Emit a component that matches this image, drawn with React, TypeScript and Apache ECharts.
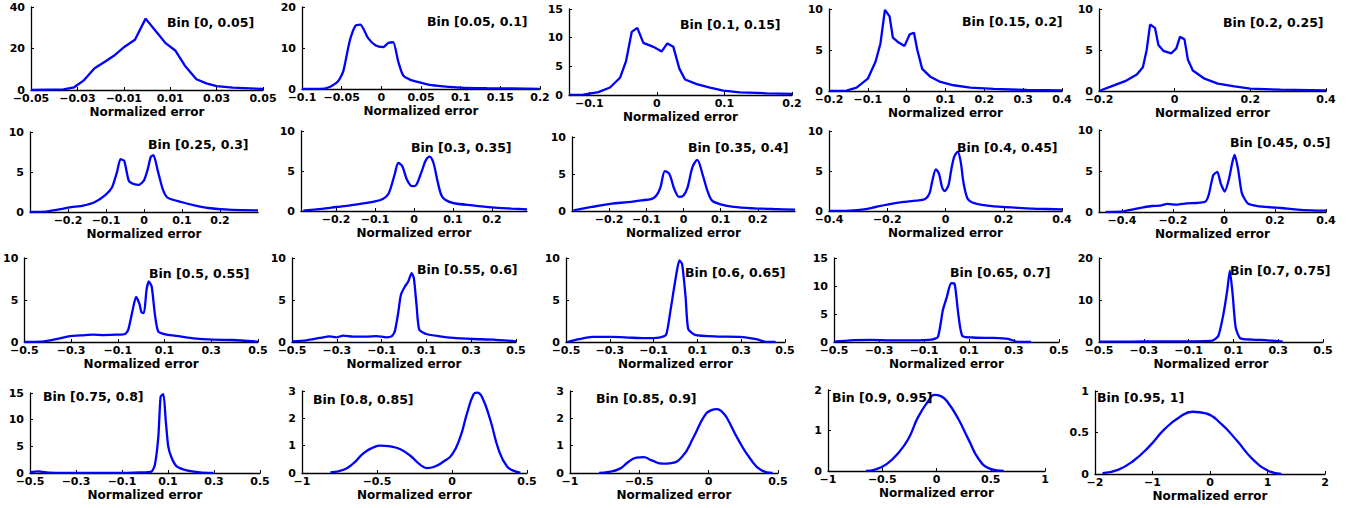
import React, { useEffect, useRef } from "react";
import * as echarts from "echarts";

const binLabels = [
  "Bin [0, 0.05]", "Bin [0.05, 0.1]", "Bin [0.1, 0.15]", "Bin [0.15, 0.2]", "Bin [0.2, 0.25]",
  "Bin [0.25, 0.3]", "Bin [0.3, 0.35]", "Bin [0.35, 0.4]", "Bin [0.4, 0.45]", "Bin [0.45, 0.5]",
  "Bin [0.5, 0.55]", "Bin [0.55, 0.6]", "Bin [0.6, 0.65]", "Bin [0.65, 0.7]", "Bin [0.7, 0.75]",
  "Bin [0.75, 0.8]", "Bin [0.8, 0.85]", "Bin [0.85, 0.9]", "Bin [0.9, 0.95]", "Bin [0.95, 1]",
];

const s1x = [-0.05, -0.036, -0.0314, -0.0274, -0.0226, -0.018, -0.0138, -0.0095, -0.0052, -0.0006, 0.0039, 0.008, 0.0123, 0.0166, 0.0213, 0.0256, 0.03, 0.037, 0.05];
const s1y = [0, 0.3, 1.3, 4.5, 10.5, 13.7, 16.9, 21, 24.2, 34.4, 28.2, 22.6, 18.9, 11.3, 5.2, 3.2, 1.9, 1.1, 0.5];
const s2x = [-0.1, -0.078, -0.065, -0.0545, -0.048, -0.04, -0.0327, -0.0264, -0.0167, -0.007, 0.0022, 0.0086, 0.015, 0.0213, 0.0275, 0.036, 0.0485, 0.061, 0.078, 0.099, 0.133, 0.2];
const s2y = [0, 0, 0.5, 1.9, 4.3, 11.6, 15.4, 15.7, 12.4, 10.6, 10.2, 11.2, 11.4, 6.7, 3.3, 2.3, 1.6, 1.0, 0.65, 0.35, 0.2, 0.05];
const s3x = [-0.13, -0.1088, -0.0866, -0.0693, -0.0545, -0.0456, -0.0372, -0.0289, -0.02, -0.0052, 0.0072, 0.0155, 0.0244, 0.0333, 0.0417, 0.059, 0.0787, 0.0984, 0.123, 0.1626, 0.2];
const s3y = [0, 0.06, 0.5, 1.3, 3.0, 5.9, 11, 11.7, 9.1, 8.4, 7.6, 9.0, 8.4, 4.6, 2.7, 1.9, 1.3, 0.76, 0.47, 0.3, 0.18];
const s4x = [-0.2, -0.155, -0.129, -0.1, -0.08, -0.0675, -0.056, -0.044, -0.0355, -0.0205, -0.0055, 0.0077, 0.0188, 0.0274, 0.04, 0.062, 0.087, 0.121, 0.164, 0.224, 0.31, 0.4];
const s4y = [0, 0.04, 0.4, 1.5, 3.6, 5.8, 9.9, 9.1, 6.5, 5.9, 5.5, 6.9, 7.1, 5.0, 2.7, 1.7, 1.1, 0.7, 0.4, 0.25, 0.12, 0.08];
const s5x = [-0.2, -0.171, -0.131, -0.1, -0.084, -0.074, -0.065, -0.052, -0.043, -0.03, -0.0088, 0.0044, 0.014, 0.026, 0.035, 0.048, 0.079, 0.114, 0.158, 0.2, 0.28, 0.4];
const s5y = [0, 0.5, 1.2, 2.0, 2.9, 5.0, 8.1, 7.7, 5.6, 4.9, 4.6, 5.2, 6.6, 6.3, 3.8, 2.5, 1.5, 0.9, 0.57, 0.3, 0.16, 0.08];
const s6x = [-0.3, -0.258, -0.227, -0.191, -0.16, -0.129, -0.102, -0.084, -0.071, -0.062, -0.052, -0.04, -0.027, -0.013, 0, 0.009, 0.018, 0.025, 0.036, 0.049, 0.062, 0.098, 0.133, 0.169, 0.222, 0.3];
const s6y = [0, 0.04, 0.3, 0.6, 0.8, 1.25, 2.1, 3.1, 5.0, 6.6, 6.4, 3.9, 3.5, 3.4, 3.96, 5.2, 6.9, 7.1, 5.2, 2.9, 1.8, 1.25, 0.83, 0.5, 0.29, 0.2];
const s7x = [-0.284, -0.25, -0.2, -0.15, -0.1, -0.08, -0.065, -0.05, -0.04, -0.03, -0.018, -0.005, 0.005, 0.018, 0.03, 0.04, 0.05, 0.06, 0.07, 0.08, 0.1, 0.15, 0.2, 0.25, 0.29];
const s7y = [0.05, 0.2, 0.5, 0.8, 1.2, 1.5, 2.2, 4.5, 6.0, 5.6, 3.9, 3.1, 3.2, 4.7, 6.3, 6.8, 6.0, 3.8, 2.0, 1.4, 1.0, 0.7, 0.45, 0.3, 0.2];
const s8x = [-0.296, -0.247, -0.193, -0.149, -0.113, -0.087, -0.073, -0.062, -0.05, -0.038, -0.025, -0.012, 0, 0.011, 0.024, 0.037, 0.051, 0.064, 0.077, 0.1, 0.135, 0.189, 0.242, 0.3];
const s8y = [0.1, 0.55, 1.0, 1.2, 1.45, 1.6, 2.1, 3.2, 5.4, 5.0, 3.0, 1.9, 2.1, 3.2, 5.9, 6.9, 5.0, 2.8, 1.4, 0.9, 0.55, 0.36, 0.27, 0.18];
const s9x = [-0.4, -0.33, -0.28, -0.24, -0.2, -0.15, -0.1, -0.07, -0.055, -0.045, -0.033, -0.022, -0.012, -0.003, 0.01, 0.02, 0.03, 0.042, 0.052, 0.062, 0.075, 0.09, 0.12, 0.16, 0.2, 0.25, 0.3, 0.35, 0.4];
const s9y = [0, 0.05, 0.2, 0.5, 0.8, 1.1, 1.3, 1.5, 2.2, 3.8, 5.2, 4.6, 3.0, 2.5, 3.2, 5.2, 6.8, 7.4, 6.2, 3.5, 1.6, 1.1, 0.8, 0.6, 0.5, 0.4, 0.3, 0.25, 0.2];
const s10x = [-0.464, -0.395, -0.356, -0.316, -0.283, -0.25, -0.222, -0.185, -0.146, -0.106, -0.073, -0.06, -0.042, -0.026, -0.013, 0.003, 0.02, 0.033, 0.042, 0.056, 0.07, 0.093, 0.132, 0.185, 0.225, 0.278, 0.344, 0.4];
const s10y = [0, 0.08, 0.33, 0.57, 0.73, 0.77, 0.98, 0.9, 1.06, 1.1, 1.26, 2.07, 4.5, 4.9, 3.5, 2.5, 4.1, 6.1, 6.95, 5.1, 2.3, 1.06, 0.73, 0.57, 0.49, 0.33, 0.2, 0.16];
const s11x = [-0.5, -0.432, -0.389, -0.353, -0.311, -0.247, -0.204, -0.161, -0.104, -0.069, -0.055, -0.036, -0.022, -0.008, 0.002, 0.012, 0.023, 0.033, 0.045, 0.059, 0.073, 0.109, 0.166, 0.223, 0.308, 0.393, 0.5];
const s11y = [0, 0.04, 0.2, 0.4, 0.67, 0.8, 0.87, 0.83, 0.87, 0.95, 1.47, 3.85, 5.36, 4.6, 3.5, 3.45, 6.2, 7.2, 6.6, 3.25, 1.27, 0.87, 0.67, 0.44, 0.28, 0.24, 0.04];
const s12x = [-0.5, -0.436, -0.376, -0.332, -0.302, -0.272, -0.227, -0.168, -0.123, -0.079, -0.056, -0.041, -0.026, -0.014, 0.004, 0.019, 0.034, 0.044, 0.056, 0.068, 0.1, 0.16, 0.22, 0.309, 0.399, 0.5];
const s12y = [0.08, 0.2, 0.48, 0.67, 0.56, 0.75, 0.63, 0.63, 0.71, 0.56, 0.67, 1.27, 3.45, 5.6, 6.6, 7.2, 8.2, 7.6, 4.4, 1.47, 0.95, 0.67, 0.48, 0.36, 0.28, 0.08];
const s13x = [-0.495, -0.44, -0.38, -0.29, -0.216, -0.14, -0.076, -0.043, -0.025, -0.008, 0.008, 0.018, 0.03, 0.046, 0.058, 0.089, 0.19, 0.292, 0.368, 0.419, 0.457];
const s13y = [0, 0.33, 0.6, 0.6, 0.53, 0.45, 0.53, 0.86, 3.4, 6.2, 8.7, 9.7, 9.3, 5.4, 1.55, 0.86, 0.65, 0.6, 0.33, 0, 0];
const s14x = [-0.5, -0.428, -0.337, -0.247, -0.156, -0.066, -0.038, -0.016, 0.002, 0.02, 0.036, 0.052, 0.07, 0.115, 0.206, 0.274, 0.319, 0.376];
const s14y = [0.06, 0.3, 0.37, 0.3, 0.3, 0.43, 0.92, 5.7, 8.1, 10.5, 10.4, 5.1, 1.1, 0.8, 0.73, 0.55, 0, 0];
const s15x = [-0.5, -0.354, -0.242, -0.129, 0.006, 0.033, 0.056, 0.073, 0.084, 0.096, 0.11, 0.13, 0.185, 0.253, 0.32];
const s15y = [0.08, 0.08, 0.16, 0.16, 0.33, 1.5, 6.8, 12.5, 17.0, 11.7, 3.5, 0.9, 0.57, 0.41, 0.08];
const s16x = [-0.5, -0.464, -0.413, -0.268, -0.123, -0.022, 0.029, 0.043, 0.058, 0.068, 0.08, 0.09, 0.101, 0.116, 0.138, 0.181, 0.239, 0.297];
const s16y = [0.12, 0.3, 0.06, 0, 0, 0.12, 0.3, 1.55, 6.8, 14.3, 14.8, 9.9, 5.0, 2.8, 1.24, 0.5, 0.12, 0];
const s17x = [-0.811, -0.722, -0.656, -0.589, -0.522, -0.478, -0.411, -0.344, -0.278, -0.211, -0.167, -0.122, -0.056, 0, 0.056, 0.1, 0.144, 0.167, 0.2, 0.256, 0.311, 0.367, 0.422, 0.456];
const s17y = [0.02, 0.12, 0.36, 0.73, 0.94, 1.0, 0.97, 0.87, 0.63, 0.3, 0.18, 0.22, 0.42, 0.67, 1.33, 2.18, 2.88, 2.94, 2.78, 1.93, 0.85, 0.24, 0.06, 0.01];
const s18x = [-0.79, -0.72, -0.64, -0.58, -0.52, -0.47, -0.41, -0.33, -0.27, -0.19, -0.11, -0.03, 0.02, 0.06, 0.1, 0.13, 0.21, 0.3, 0.38, 0.46];
const s18y = [0, 0.04, 0.16, 0.4, 0.56, 0.58, 0.46, 0.34, 0.36, 0.6, 1.3, 2.09, 2.3, 2.34, 2.22, 2.03, 1.25, 0.52, 0.1, 0];
const s19x = [-0.65, -0.56, -0.46, -0.36, -0.26, -0.17, -0.07, -0.02, 0.04, 0.1, 0.2, 0.3, 0.39, 0.49, 0.62];
const s19y = [0, 0.04, 0.17, 0.42, 0.79, 1.33, 1.75, 1.88, 1.85, 1.71, 1.29, 0.75, 0.29, 0.06, 0];
const s20x = [-1.87, -1.6, -1.33, -1.06, -0.79, -0.52, -0.3, -0.07, 0.2, 0.47, 0.74, 1.01, 1.24];
const s20y = [0.01, 0.05, 0.16, 0.33, 0.54, 0.69, 0.75, 0.73, 0.6, 0.4, 0.18, 0.04, 0];

const seriesX = [s1x, s2x, s3x, s4x, s5x, s6x, s7x, s8x, s9x, s10x, s11x, s12x, s13x, s14x, s15x, s16x, s17x, s18x, s19x, s20x];
const seriesY = [s1y, s2y, s3y, s4y, s5y, s6y, s7y, s8y, s9y, s10y, s11y, s12y, s13y, s14y, s15y, s16y, s17y, s18y, s19y, s20y];

const xRange = [
  [-0.05, 0.05], [-0.1, 0.2], [-0.13, 0.2], [-0.2, 0.4], [-0.2, 0.4],
  [-0.3, 0.3], [-0.29, 0.29], [-0.3, 0.3], [-0.4, 0.4], [-0.49, 0.4],
  [-0.5, 0.5], [-0.5, 0.5], [-0.5, 0.5], [-0.5, 0.5], [-0.5, 0.5],
  [-0.5, 0.5], [-1, 0.5], [-1, 0.5], [-1, 1], [-2, 2],
];
const tk5 = [-0.5, -0.3, -0.1, 0.1, 0.3, 0.5];
const tk2 = [-0.2, -0.1, 0, 0.1, 0.2];
const xTicks = [
  [-0.05, -0.03, -0.01, 0.01, 0.03, 0.05],
  [-0.1, -0.05, 0, 0.05, 0.1, 0.15, 0.2],
  [-0.1, 0, 0.1, 0.2],
  [-0.2, -0.1, 0, 0.1, 0.2, 0.3, 0.4],
  [-0.2, 0, 0.2, 0.4],
  tk2, tk2, tk2,
  [-0.4, -0.2, 0, 0.2, 0.4],
  [-0.4, -0.2, 0, 0.2, 0.4],
  tk5, tk5, tk5, tk5, tk5, tk5,
  [-1, -0.5, 0, 0.5],
  [-1, -0.5, 0, 0.5],
  [-1, -0.5, 0, 0.5, 1],
  [-2, -1, 0, 1, 2],
];
const yTicks = [
  [0, 20, 40], [0, 10, 20], [0, 5, 10, 15], [0, 5, 10], [0, 5, 10],
  [0, 5, 10], [0, 5, 10], [0, 5, 10], [0, 5, 10], [0, 5, 10],
  [0, 5, 10], [0, 5, 10], [0, 5, 10], [0, 5, 10, 15], [0, 10, 20],
  [0, 5, 10, 15], [0, 1, 2, 3], [0, 1, 2, 3], [0, 1, 2], [0, 0.5, 1],
];
const smoothness = [0, 0.2, 0, 0, 0, 0.2, 0.3, 0.3, 0.3, 0.2, 0.2, 0.2, 0.2, 0.2, 0.2, 0.2, 0.5, 0.5, 0.5, 0.5];

// layout: [left, right, top, bottom, titleLeft, titleTop]
const layout = [
  [31, 263, 7, 90, 167, 16],
  [302, 540, 7, 89, 427, 15],
  [569, 792, 9, 95, 680, 18],
  [829, 1062, 9, 91, 962, 15],
  [1099, 1326, 9, 91, 1223, 16],
  [30, 258, 132, 212, 148, 138],
  [301, 527, 131, 211, 411, 141],
  [572, 795, 137, 211, 688, 141],
  [829, 1062, 131, 211, 957, 141],
  [1099, 1326, 130, 212, 1230, 136],
  [24, 258, 258, 342, 149, 267],
  [292, 516, 258, 342, 417, 263],
  [566, 785, 258, 342, 685, 266],
  [834, 1059, 258, 342, 950, 266],
  [1099, 1323, 258, 342, 1230, 264],
  [30, 260, 393, 473, 43, 390],
  [302, 527, 391, 473, 313, 393],
  [570, 778, 391, 473, 596, 392],
  [828, 1045, 390, 471, 832, 391],
  [1095, 1325, 391, 474, 1097, 391],
];

const FONT = "DejaVu Sans, sans-serif";

function fmt(v: number): string {
  const a = parseFloat(Math.abs(v).toFixed(4)).toString();
  return v < 0 ? "\u2212" + a : a;
}

export default function App() {
  const ref = useRef<HTMLDivElement>(null);
  useEffect(() => {
    if (!ref.current) return;
    const chart = echarts.init(ref.current, undefined, { renderer: "svg" });
    const grids: any[] = [];
    const xAxes: any[] = [];
    const yAxes: any[] = [];
    const series: any[] = [];
    const titles: any[] = [];
    layout.forEach((L, i) => {
      const [l, r, t, b, tl, tt] = L;
      grids.push({ left: l, top: t, width: r - l, height: b - t, containLabel: false });
      xAxes.push({
        type: "value",
        gridIndex: i,
        min: xRange[i][0],
        max: xRange[i][1],
        name: "Normalized error",
        nameLocation: "middle",
        nameGap: 16,
        nameMoveOverlap: false,
        nameTextStyle: { fontFamily: FONT, fontWeight: "bold", fontSize: 12, lineHeight: 12, color: "#000", verticalAlign: "top" },
        axisLine: { show: true, onZero: false, lineStyle: { color: "#000", width: 1.3 } },
        axisTick: { show: true, inside: true, length: 3, customValues: xTicks[i], lineStyle: { color: "#000", width: 1 } },
        axisLabel: {
          customValues: xTicks[i],
          formatter: (v: number) => fmt(v),
          fontFamily: FONT, fontWeight: "bold", fontSize: 11, lineHeight: 11, color: "#000", margin: 3,
        },
        splitLine: { show: false },
      });
      const ymax = yTicks[i][yTicks[i].length - 1];
      yAxes.push({
        type: "value",
        gridIndex: i,
        min: 0,
        max: ymax,
        axisLine: { show: true, onZero: false, lineStyle: { color: "#000", width: 1.3 } },
        axisTick: { show: true, inside: true, length: 3, customValues: yTicks[i], lineStyle: { color: "#000", width: 1 } },
        axisLabel: {
          customValues: yTicks[i],
          formatter: (v: number) => fmt(v),
          fontFamily: FONT, fontWeight: "bold", fontSize: 11, lineHeight: 11, color: "#000", margin: 6,
          padding: [0, 0, 3, 0],
        },
        splitLine: { show: false },
      });
      series.push({
        type: "line",
        xAxisIndex: i,
        yAxisIndex: i,
        data: seriesX[i].map((x, j) => [x, seriesY[i][j]]),
        showSymbol: false,
        smooth: smoothness[i],
        lineStyle: { color: "#0000ff", width: 2.3 },
        clip: true,
      });
      titles.push({
        text: binLabels[i],
        left: tl,
        top: tt,
        padding: 0,
        textStyle: { fontFamily: FONT, fontWeight: "bold", fontSize: 12.5, color: "#000" },
      });
    });
    chart.setOption({
      animation: false,
      backgroundColor: "#fff",
      title: titles,
      grid: grids,
      xAxis: xAxes,
      yAxis: yAxes,
      series,
    });
    return () => chart.dispose();
  }, []);
  return (
    <div
      ref={ref}
      style={{ position: "fixed", left: 0, top: 0, width: 1364, height: 508, background: "#fff" }}
    />
  );
}
